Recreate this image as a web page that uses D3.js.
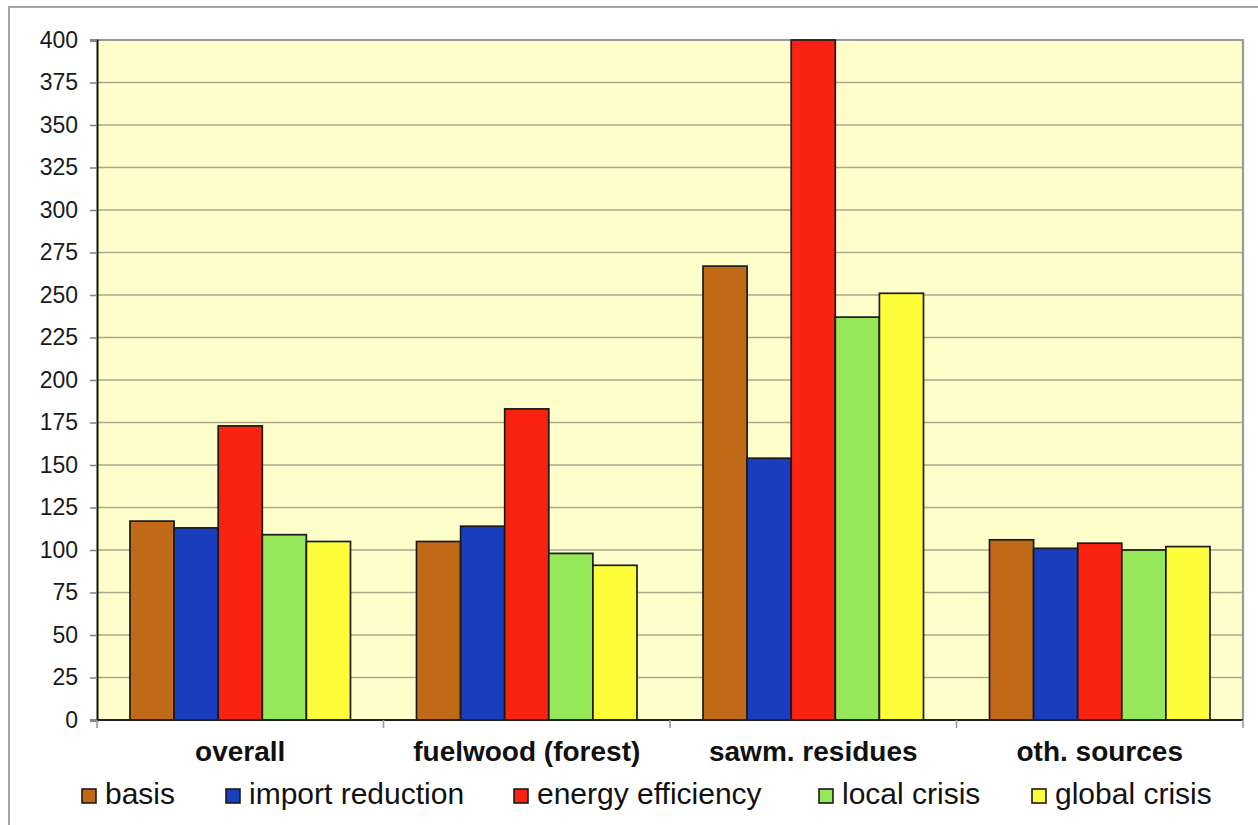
<!DOCTYPE html>
<html>
<head>
<meta charset="utf-8">
<script src="https://cdn.jsdelivr.net/npm/d3@7"></script>
<style>
  html, body { margin: 0; padding: 0; background: #ffffff; }
  svg { display: block; font-family: "Liberation Sans", Arial, sans-serif; }
</style>
</head>
<body>
<svg id="chart" width="1258" height="825"></svg>
<script>
// Wood energy index by source and scenario
const categories = ["overall", "fuelwood (forest)", "sawm. residues", "oth. sources"];
const series = ["basis", "import reduction", "energy efficiency", "local crisis", "global crisis"];
const basis            = [117, 105, 267, 106];
const importReduction  = [113, 114, 154, 101];
const energyEfficiency = [173, 183, 400, 104];
const localCrisis      = [109,  98, 237, 100];
const globalCrisis     = [105,  91, 251, 102];
const yTicks = [0, 25, 50, 75, 100, 125, 150, 175, 200, 225, 250, 275, 300, 325, 350, 375, 400];
const colors = ["#c06a17", "#1a3dbd", "#fa2311", "#96e85a", "#fdfd3a"];

const values = [basis, importReduction, energyEfficiency, localCrisis, globalCrisis];

(function () {
  const svg = d3.select("#chart");
  const plotL = 97, plotR = 1243, plotT = 40, plotB = 720;

  // outer chart frame
  svg.append("rect")
    .attr("x", 9).attr("y", 7).attr("width", 1300).attr("height", 900)
    .attr("fill", "#ffffff").attr("stroke", "#a6a6a6").attr("stroke-width", 2);

  const x = d3.scaleBand().domain(categories).range([plotL, plotR]).padding(0);
  const inner = (plotR - plotL) / categories.length;
  const xs = d3.scaleBand().domain(series).range([33, inner - 33]).padding(0);
  const y = d3.scaleLinear().domain([0, 400]).range([plotB, plotT]).clamp(true);

  // plot area background
  svg.append("rect")
    .attr("x", plotL).attr("y", plotT).attr("width", plotR - plotL).attr("height", plotB - plotT)
    .attr("fill", "#ffffcc");

  // horizontal gridlines
  svg.append("g").selectAll("line")
    .data(yTicks.filter(t => t > 0 && t < 400))
    .join("line")
    .attr("x1", plotL).attr("x2", plotR)
    .attr("y1", d => y(d)).attr("y2", d => y(d))
    .attr("stroke", "#a9a98c").attr("stroke-width", 1.6);

  // plot border (top & right)
  svg.append("path")
    .attr("d", `M${plotL},${plotT}H${plotR}V${plotB}`)
    .attr("fill", "none").attr("stroke", "#9a9a9a").attr("stroke-width", 2.2);

  // bars
  const rows = [];
  categories.forEach((c, i) => series.forEach((s, j) => rows.push({ c, s, j, v: values[j][i] })));
  svg.append("g").selectAll("rect")
    .data(rows)
    .join("rect")
    .attr("x", d => x(d.c) + xs(d.s))
    .attr("y", d => y(d.v))
    .attr("width", xs.bandwidth())
    .attr("height", d => y(0) - y(d.v))
    .attr("fill", d => colors[d.j])
    .attr("stroke", "#1a1a1a").attr("stroke-width", 1.7);

  // y axis
  const yAxis = d3.axisLeft(y).tickValues(yTicks).tickSize(7).tickPadding(12);
  const gy = svg.append("g").attr("transform", `translate(${plotL},0)`).call(yAxis);
  gy.select(".domain").attr("stroke", "#111").attr("stroke-width", 2);
  gy.selectAll(".tick line").attr("stroke", "#888").attr("stroke-width", 1.6);
  gy.selectAll(".tick text")
    .attr("font-family", "'Liberation Sans', Arial, sans-serif")
    .attr("font-size", 23).attr("fill", "#1a1a1a");

  // x axis with ticks at category boundaries
  const gx = svg.append("g").attr("transform", `translate(0,${plotB})`);
  gx.append("line").attr("x1", plotL).attr("x2", plotR).attr("stroke", "#222").attr("stroke-width", 2);
  const bounds = categories.map(c => x(c)).concat([plotR]);
  gx.selectAll(".bt").data(bounds).join("line")
    .attr("class", "bt")
    .attr("x1", d => d).attr("x2", d => d).attr("y1", 0).attr("y2", 8)
    .attr("stroke", "#999").attr("stroke-width", 1.6);
  gx.selectAll("text").data(categories).join("text")
    .attr("x", d => x(d) + x.bandwidth() / 2)
    .attr("y", 41)
    .attr("text-anchor", "middle")
    .attr("font-size", 28).attr("font-weight", "bold").attr("fill", "#111")
    .text(d => d);

  // legend
  const legendX = [105, 249, 537, 842, 1055];
  const lg = svg.append("g").selectAll("g").data(series).join("g")
    .attr("transform", (d, i) => `translate(${legendX[i]},0)`);
  lg.append("rect")
    .attr("x", -23).attr("y", 789).attr("width", 14).attr("height", 14)
    .attr("fill", (d, i) => colors[i]).attr("stroke", "#1a1a1a").attr("stroke-width", 1.6);
  lg.append("text")
    .attr("x", 0).attr("y", 804)
    .attr("font-size", 30).attr("fill", "#111")
    .text(d => d);
})();
</script>
</body>
</html>
